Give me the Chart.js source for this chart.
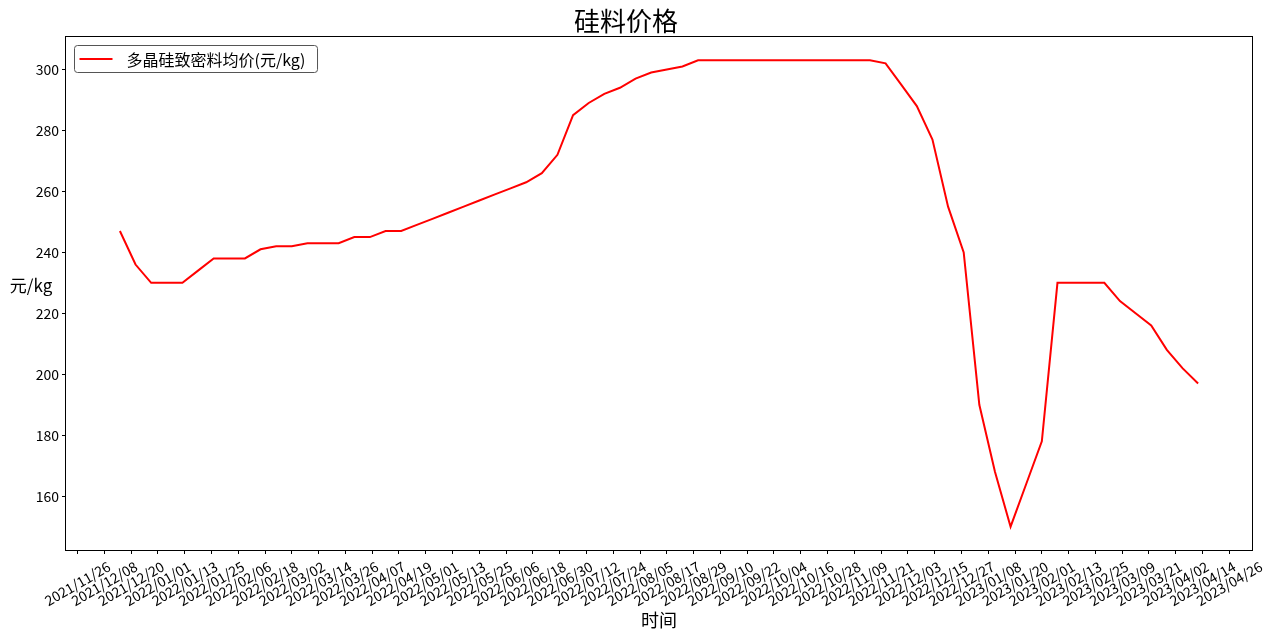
<!DOCTYPE html>
<html>
<head>
<meta charset="utf-8">
<script src="https://cdn.jsdelivr.net/npm/chart.js@4.4.0/dist/chart.umd.min.js"></script>
<style>
html,body{margin:0;padding:0;background:#fff;}
canvas{display:block;}
</style>
</head>
<body>
<canvas id="c" width="1280" height="637"></canvas>
<script>
const chartTitle = '硅料价格';
const seriesLabel = '多晶硅致密料均价(元/kg)';
const xAxisTitle = '时间';
const yAxisTitle = '元/kg';

const dates = [
  '2021/12/15','2021/12/22','2021/12/29',
  '2022/01/05','2022/01/12','2022/01/19','2022/01/26',
  '2022/02/02','2022/02/09','2022/02/16','2022/02/23',
  '2022/03/02','2022/03/09','2022/03/16','2022/03/23','2022/03/30',
  '2022/04/06','2022/04/13','2022/04/20','2022/04/27',
  '2022/05/04','2022/05/11','2022/05/18','2022/05/25',
  '2022/06/01','2022/06/08','2022/06/15','2022/06/22','2022/06/29',
  '2022/07/06','2022/07/13','2022/07/20','2022/07/27',
  '2022/08/03','2022/08/10','2022/08/17','2022/08/24','2022/08/31',
  '2022/09/07','2022/09/14','2022/09/21','2022/09/28',
  '2022/10/05','2022/10/12','2022/10/19','2022/10/26',
  '2022/11/02','2022/11/09','2022/11/16','2022/11/23','2022/11/30',
  '2022/12/07','2022/12/14','2022/12/21','2022/12/28',
  '2023/01/04','2023/01/11','2023/01/18','2023/01/25',
  '2023/02/01','2023/02/08','2023/02/15','2023/02/22',
  '2023/03/01','2023/03/08','2023/03/15','2023/03/22','2023/03/29',
  '2023/04/05','2023/04/12'
];

const prices = [
  247,236,230,
  230,230,234,238,
  238,238,241,242,
  242,243,243,243,245,
  245,247,247,249,
  251,253,255,257,
  259,261,263,266,272,
  285,289,292,294,
  297,299,300,301,303,
  303,303,303,303,
  303,303,303,303,
  303,303,303,302,295,
  288,277,255,240,
  190,168,150,164,
  178,230,230,230,
  230,224,220,216,208,
  202,197
];

const xTickLabels = [
  '2021/11/26','2021/12/08','2021/12/20',
  '2022/01/01','2022/01/13','2022/01/25','2022/02/06','2022/02/18','2022/03/02',
  '2022/03/14','2022/03/26','2022/04/07','2022/04/19','2022/05/01','2022/05/13',
  '2022/05/25','2022/06/06','2022/06/18','2022/06/30','2022/07/12','2022/07/24',
  '2022/08/05','2022/08/17','2022/08/29','2022/09/10','2022/09/22','2022/10/04',
  '2022/10/16','2022/10/28','2022/11/09','2022/11/21','2022/12/03','2022/12/15',
  '2022/12/27',
  '2023/01/08','2023/01/20','2023/02/01','2023/02/13','2023/02/25','2023/03/09',
  '2023/03/21','2023/04/02','2023/04/14','2023/04/26'
];

const yTickValues = [160,180,200,220,240,260,280,300];

const FONT = "'Noto Sans CJK SC', 'Noto Sans', sans-serif";

function toDay(s) {
  const p = s.split('/').map(Number);
  return Date.UTC(p[0], p[1] - 1, p[2]) / 86400000;
}

const points = dates.map((d, i) => ({ x: toDay(d), y: prices[i] }));
const xs = points.map(p => p.x);
const xMinData = Math.min(...xs), xMaxData = Math.max(...xs);
const xPad = (xMaxData - xMinData) * 0.05;
const yMinData = Math.min(...prices), yMaxData = Math.max(...prices);
const yPad = (yMaxData - yMinData) * 0.05;

const decor = {
  id: 'decor',
  afterDraw(chart) {
    const { ctx, chartArea: a, scales: { x } } = chart;
    ctx.save();
    // frame
    ctx.strokeStyle = '#000';
    ctx.lineWidth = 1;
    ctx.strokeRect(a.left - 0.5, a.top - 0.5, a.right - a.left + 1, a.bottom - a.top + 1);

    // x tick labels (rotated 30°, centred on tick)
    ctx.fillStyle = '#000';
    ctx.font = '14px ' + FONT;
    ctx.textAlign = 'center';
    ctx.textBaseline = 'middle';
    xTickLabels.forEach(l => {
      const px = x.getPixelForValue(toDay(l));
      ctx.save();
      ctx.translate(px, a.bottom + 33.5);
      ctx.rotate(-Math.PI / 6);
      ctx.fillText(l, 0, 0);
      ctx.restore();
    });

    // y axis title (horizontal)
    ctx.font = '17px ' + FONT;
    ctx.textAlign = 'center';
    ctx.textBaseline = 'middle';
    ctx.fillText(yAxisTitle, 31, 286);

    // legend
    const ds = chart.data.datasets[0];
    ctx.font = '16px ' + FONT;
    const tw = ctx.measureText(ds.label).width;
    const bx = a.left + 8.5, by = a.top + 8.5;
    const bw = 52 + tw + 12, bh = 27;
    const r = 3;
    ctx.beginPath();
    ctx.moveTo(bx + r, by);
    ctx.lineTo(bx + bw - r, by);
    ctx.arcTo(bx + bw, by, bx + bw, by + r, r);
    ctx.lineTo(bx + bw, by + bh - r);
    ctx.arcTo(bx + bw, by + bh, bx + bw - r, by + bh, r);
    ctx.lineTo(bx + r, by + bh);
    ctx.arcTo(bx, by + bh, bx, by + bh - r, r);
    ctx.lineTo(bx, by + r);
    ctx.arcTo(bx, by, bx + r, by, r);
    ctx.closePath();
    ctx.fillStyle = 'rgba(255,255,255,0.8)';
    ctx.fill();
    ctx.strokeStyle = '#555';
    ctx.lineWidth = 1;
    ctx.stroke();
    ctx.beginPath();
    ctx.strokeStyle = ds.borderColor;
    ctx.lineWidth = 2;
    ctx.moveTo(bx + 5, by + 13.5);
    ctx.lineTo(bx + 38, by + 13.5);
    ctx.stroke();
    ctx.fillStyle = '#000';
    ctx.textAlign = 'left';
    ctx.textBaseline = 'middle';
    ctx.fillText(ds.label, bx + 52, by + 14);
    ctx.restore();
  }
};

new Chart(document.getElementById('c'), {
  type: 'line',
  data: {
    datasets: [{
      label: seriesLabel,
      data: points,
      borderColor: '#ff0000',
      backgroundColor: '#ff0000',
      borderWidth: 2,
      pointRadius: 0,
      tension: 0,
      fill: false
    }]
  },
  options: {
    responsive: false,
    animation: false,
    devicePixelRatio: 1,
    layout: { padding: { left: 0, right: 28, top: 0, bottom: 0 } },
    plugins: {
      legend: { display: false },
      tooltip: { enabled: false },
      title: {
        display: true,
        text: chartTitle,
        color: '#000',
        font: { family: FONT, size: 26, lineHeight: 1, weight: 'normal' },
        padding: { top: 8.5, bottom: 2.5 }
      }
    },
    scales: {
      x: {
        type: 'linear',
        min: xMinData - xPad,
        max: xMaxData + xPad,
        afterBuildTicks: (s) => { s.ticks = xTickLabels.map(l => ({ value: toDay(l) })); },
        afterFit: (s) => { s.height = 87; },
        ticks: { display: false },
        grid: { display: true, drawOnChartArea: false, drawTicks: true, tickLength: 4, color: '#000', lineWidth: 1 },
        border: { display: false },
        title: {
          display: true,
          text: xAxisTitle,
          color: '#000',
          font: { family: FONT, size: 18, lineHeight: 1.2 },
          padding: { top: 0, bottom: 6 }
        }
      },
      y: {
        type: 'linear',
        min: yMinData - yPad,
        max: yMaxData + yPad,
        afterBuildTicks: (s) => { s.ticks = yTickValues.map(v => ({ value: v })); },
        afterFit: (s) => { s.width = 66; },
        ticks: { color: '#000', font: { family: FONT, size: 14 }, padding: 3 },
        grid: { display: true, drawOnChartArea: false, drawTicks: true, tickLength: 4, color: '#000', lineWidth: 1 },
        border: { display: false }
      }
    }
  },
  plugins: [decor]
});
</script>
</body>
</html>
